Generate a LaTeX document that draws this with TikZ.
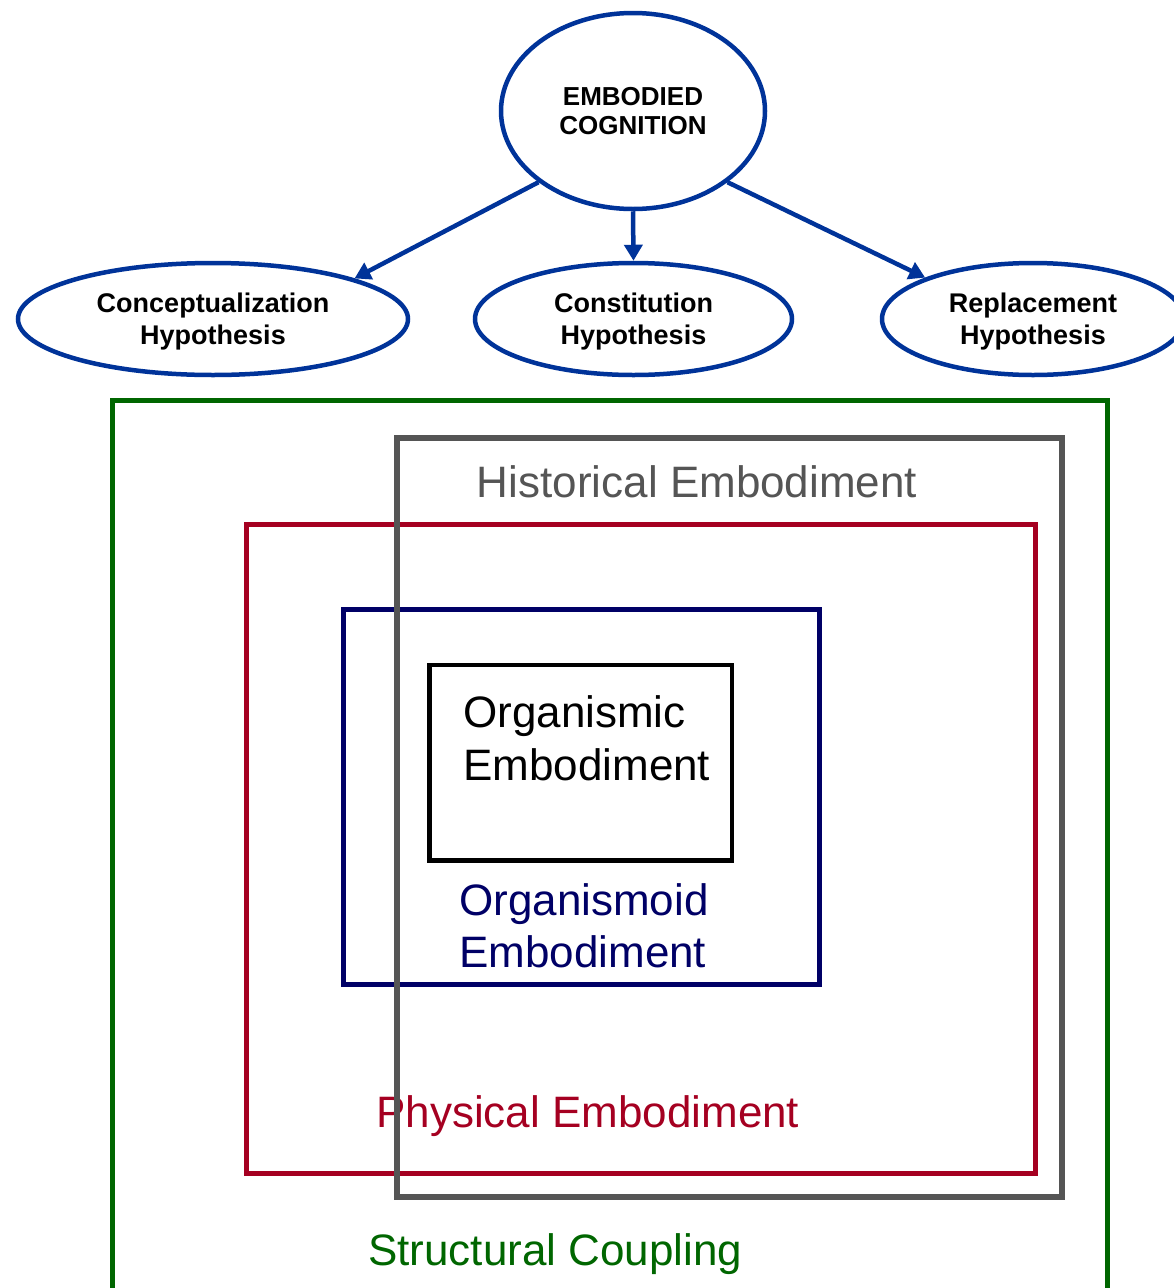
\documentclass[tikz,border=0pt]{standalone}
\usepackage{fontspec}
\setmainfont{Liberation Sans}
\usetikzlibrary{shapes.geometric,arrows.meta}
\definecolor{ecblue}{HTML}{003399}
\definecolor{scgreen}{HTML}{006600}
\definecolor{hegrey}{HTML}{555555}
\definecolor{pered}{HTML}{A50021}
\definecolor{oenavy}{HTML}{000066}
\tikzset{
  hyp/.style={ellipse, draw=ecblue, line width=4.5pt, inner sep=0pt},
  hyptext/.style={align=center, inner sep=0pt, font=\fontsize{27}{32}\selectfont\bfseries},
  arr/.style={draw=ecblue, line width=4.5pt, -{Triangle[length=16pt,width=18pt]}},
  frame/.style={line width=5pt},
  bigtext/.style={font=\fontsize{44}{53}\selectfont, inner sep=0pt}
}
\begin{document}
\begin{tikzpicture}[x=1pt,y=-1pt]
\useasboundingbox (0,0) rectangle (1174,1288);
% ellipses
\node[hyp, minimum width=264pt, minimum height=196pt] (ec) at (633,111) {};
\node[hyp, minimum width=390pt, minimum height=112pt] (ch) at (213,319) {};
\node[hyp, minimum width=317pt, minimum height=112pt] (coh) at (633.5,319) {};
\node[hyp, minimum width=302pt, minimum height=112pt] (rh) at (1033,319) {};
\node[hyptext, font=\fontsize{26}{29}\selectfont\bfseries] (ect) at (633,111) {EMBODIED\\COGNITION};
\node[hyptext] (cht) at (213,322) {Conceptualization\\Hypothesis};
\node[hyptext] (coht) at (633.5,322) {Constitution\\Hypothesis};
\node[hyptext] (rht) at (1033,322) {Replacement\\Hypothesis};
% arrows
\draw[arr] (ec.-143) -- (ch.16);
\draw[arr] (ec.south) -- (coh.north);
\draw[arr] (ec.-37) -- (rh.159);
% frames
\draw[frame, draw=scgreen] (112.5,400) rectangle (1107.5,1292);
\draw[frame, draw=pered] (246.5,524.5) rectangle (1035.5,1173.5);
\draw[frame, draw=oenavy] (343,609.5) rectangle (819,984);
\draw[frame, line width=4.5pt, draw=black] (429.5,665) rectangle (732,860.5);
% labels
\node[bigtext, text=hegrey, anchor=base] (hist) at (697,497) {Historical Embodiment};
\node[bigtext, text=black, anchor=base west] (org1) at (463,727) {Organismic};
\node[bigtext, text=black, anchor=base west] (org2) at (463,780) {Embodiment};
\node[bigtext, text=oenavy, anchor=base west] (oid1) at (459,915) {Organismoid};
\node[bigtext, text=oenavy, anchor=base west] (oid2) at (459,967) {Embodiment};
\node[bigtext, text=pered, anchor=base west] (phys) at (376,1127) {Physical Embodiment};
\node[bigtext, text=scgreen, anchor=base west] (sc) at (368,1265) {Structural Coupling};
% grey frame on top
\draw[frame, line width=6pt, draw=hegrey] (396.5,438) rectangle (1061.5,1196.5);
\end{tikzpicture}
\end{document}
